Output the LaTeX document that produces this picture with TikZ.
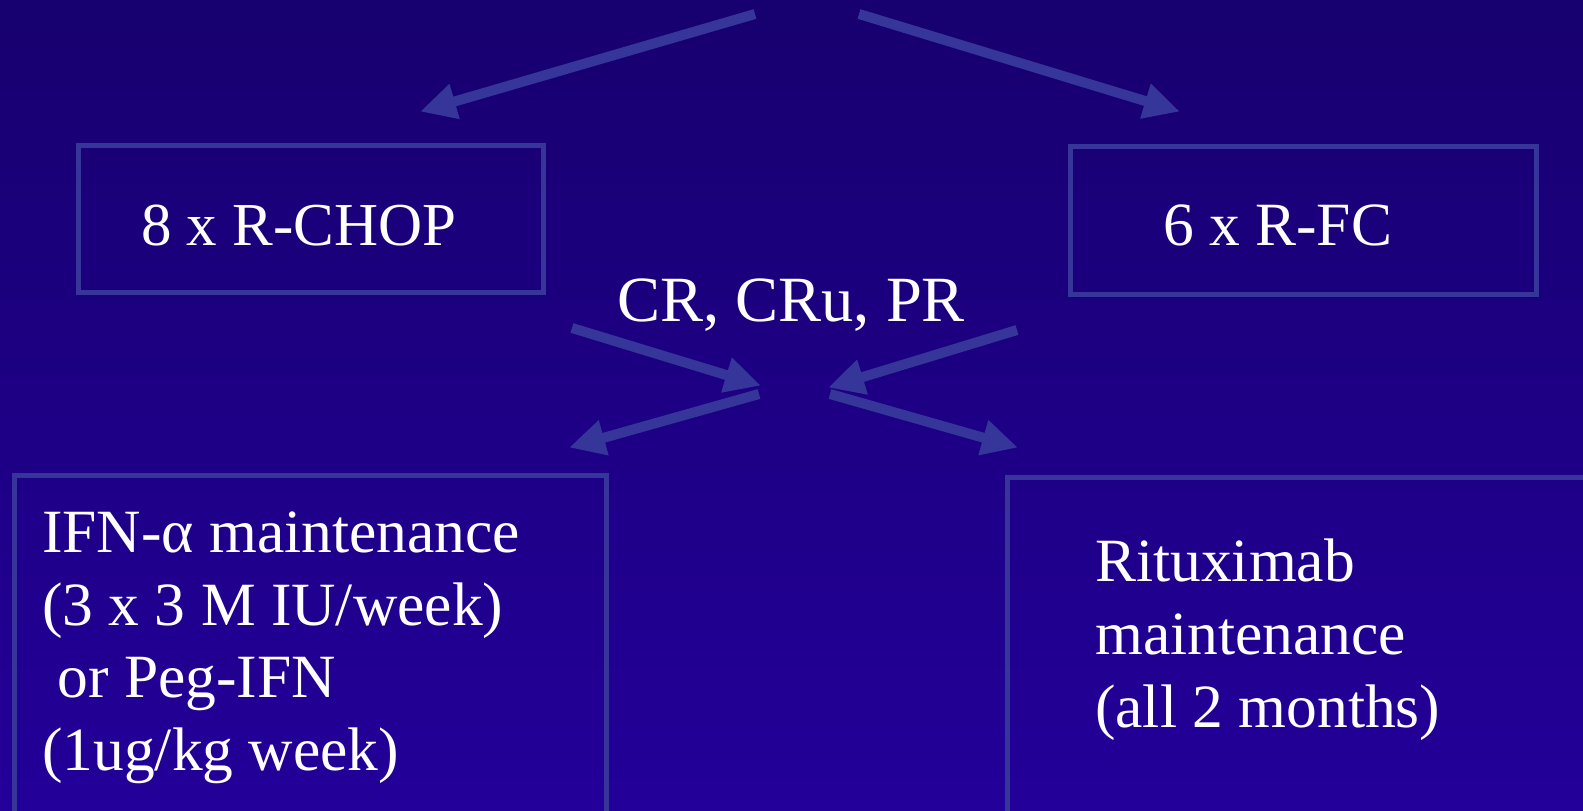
\documentclass[tikz,border=0pt]{standalone}
\usepackage{fontspec}
\setmainfont{Liberation Serif}
\usetikzlibrary{arrows.meta}
\definecolor{bgtop}{HTML}{17006F}
\definecolor{bgbot}{HTML}{230099}
\definecolor{linec}{HTML}{36369A}
\tikzset{
  box/.style={draw=linec, line width=4.5pt, inner sep=0pt},
  lbl/.style={text=white, anchor=base west, inner sep=0pt, align=left},
  arr/.style={draw=linec, line width=10pt, -{Triangle[length=36pt,width=34pt]}, shorten >=-2pt},
}
\begin{document}
\begin{tikzpicture}[x=1pt,y=-1pt]
\useasboundingbox (0,0) rectangle (1583,811);
\shade[top color=bgtop, bottom color=bgbot] (0,0) rectangle (1583,811);
\clip (0,0) rectangle (1583,811);
% boxes
\node[box, minimum width=465pt, minimum height=147pt, anchor=north west] (b1) at (76,143) {};
\node[box, minimum width=466pt, minimum height=148pt, anchor=north west] (b2) at (1068,144) {};
\node[box, minimum width=592pt, minimum height=380pt, anchor=north west] (b3) at (12,473) {};
\node[box, minimum width=620pt, minimum height=380pt, anchor=north west] (b4) at (1005,475) {};
% texts
\node[lbl, font=\fontsize{61}{73}\selectfont] (t1) at (141,245) {8 x R-CHOP};
\node[lbl, font=\fontsize{61.5}{73}\selectfont] (t2) at (1163,245) {6 x R-FC};
\node[lbl, font=\fontsize{64.5}{73}\selectfont] (t3) at (617,321) {CR, CRu, PR};
\node[lbl, font=\fontsize{61.5}{72.5}\selectfont] (t4) at (42,770) {IFN-α maintenance\\(3 x 3 M IU/week)\\\ or Peg-IFN\\(1ug/kg week)};
\node[lbl, font=\fontsize{61.5}{73}\selectfont] (t5) at (1095,727) {Rituximab\\maintenance\\(all 2 months)};
% arrow endpoints
\coordinate (a1s) at (755,14);   \coordinate (a1e) at (422,111);
\coordinate (a2s) at (859,14);   \coordinate (a2e) at (1178,111);
\coordinate (a3s) at (572,328);  \coordinate (a3e) at (759,385);
\coordinate (a4s) at (1017,330); \coordinate (a4e) at (830,387);
\coordinate (a5s) at (759,394);  \coordinate (a5e) at (571,447);
\coordinate (a6s) at (830,394);  \coordinate (a6e) at (1016,447);
\draw[arr] (a1s) -- (a1e);
\draw[arr] (a2s) -- (a2e);
\draw[arr] (a3s) -- (a3e);
\draw[arr] (a4s) -- (a4e);
\draw[arr] (a5s) -- (a5e);
\draw[arr] (a6s) -- (a6e);
\end{tikzpicture}
\end{document}
